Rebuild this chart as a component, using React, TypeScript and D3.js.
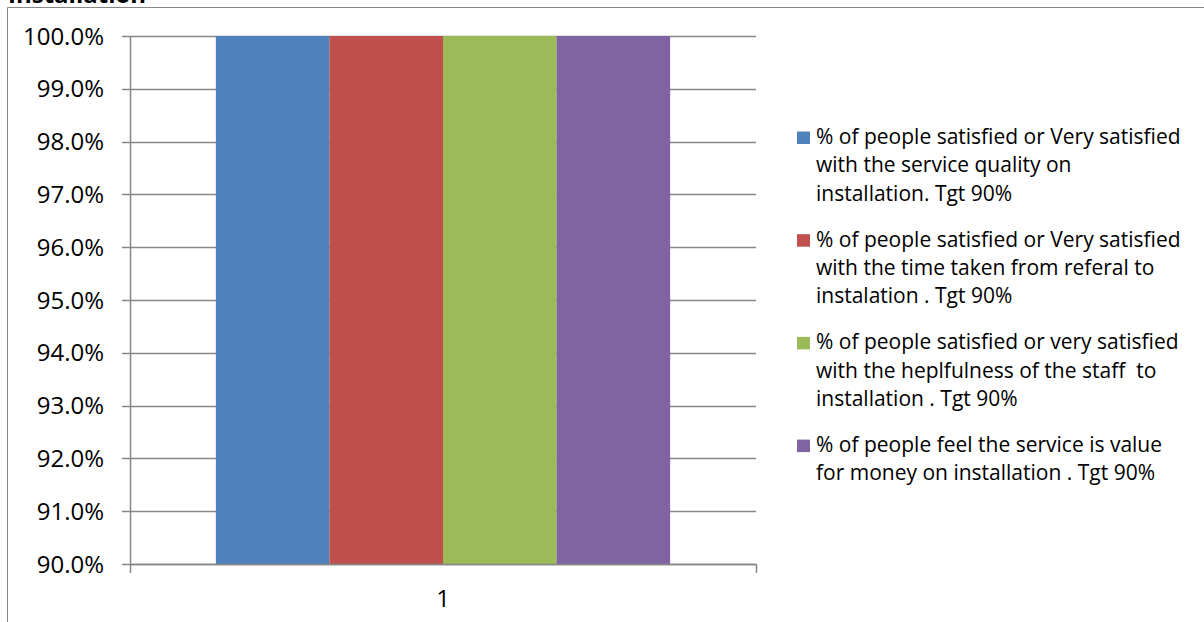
import React from "react";
import * as d3 from "d3";

const categories = ["1"];
const seriesNames = [
  ["% of people satisfied or Very satisfied", "with the service quality on", "installation. Tgt 90%"],
  ["% of people satisfied or Very satisfied", "with the time taken from referal to", "instalation . Tgt 90%"],
  ["% of people satisfied or very satisfied", "with the heplfulness of the staff  to", "installation . Tgt 90%"],
  ["% of people feel the service is value", "for money on installation . Tgt 90%"],
];
const seriesValues = [1.0, 1.0, 1.0, 1.0];
const seriesColors = ["#4F81BD", "#C0504D", "#9BBB59", "#8064A2"];
const yTicks = [0.9, 0.91, 0.92, 0.93, 0.94, 0.95, 0.96, 0.97, 0.98, 0.99, 1.0];

const W = 1204;
const H = 622;
const plot = { left: 130, right: 756, top: 36, bottom: 564 };
const axisColor = "#868686";
const font = "'Open Sans', sans-serif";

export default function App() {
  const y = d3.scaleLinear().domain([0.9, 1.0]).range([plot.bottom, plot.top]);
  const x0 = d3
    .scaleBand<string>()
    .domain(categories)
    .range([plot.left, plot.right])
    .paddingInner(0)
    .paddingOuter(0.189);
  const x1 = d3
    .scaleBand<number>()
    .domain(d3.range(seriesValues.length))
    .range([0, x0.bandwidth()]);
  const fmt = d3.format(".1%");

  return (
    <svg
      width={W}
      height={H}
      style={{ position: "absolute", left: 0, top: 0, background: "#fff" }}
    >
      <rect x={0} y={0} width={W} height={H} fill="#fff" />
      <text
        x={8}
        y={3}
        fontFamily={font}
        fontWeight="bold"
        fontSize={24}
        fill="#000"
      >
        Installation
      </text>
      <line x1={7.5} y1={7.5} x2={W} y2={7.5} stroke={axisColor} strokeWidth={1} />
      <line x1={7.5} y1={7.5} x2={7.5} y2={H} stroke={axisColor} strokeWidth={1} />

      {yTicks.map((t) => (
        <g key={t}>
          <line
            x1={plot.left - 8}
            x2={plot.right}
            y1={Math.round(y(t)) + 0.5}
            y2={Math.round(y(t)) + 0.5}
            stroke={axisColor}
            strokeWidth={1.5}
          />
          <text
            x={104}
            y={y(t) + 8.5}
            textAnchor="end"
            fontFamily={font}
            fontSize={24}
            fill="#000"
          >
            {fmt(t)}
          </text>
        </g>
      ))}

      {categories.map((c) => (
        <g key={c} transform={`translate(${x0(c)},0)`}>
          {seriesValues.map((v, i) => (
            <rect
              key={i}
              x={x1(i)}
              y={y(v)}
              width={x1.bandwidth()}
              height={y(0.9) - y(v)}
              fill={seriesColors[i]}
            />
          ))}
        </g>
      ))}

      <line x1={plot.left} x2={plot.right} y1={plot.bottom + 0.5} y2={plot.bottom + 0.5} stroke={axisColor} strokeWidth={1.5} />
      <line x1={plot.left + 0.5} x2={plot.left + 0.5} y1={plot.top} y2={plot.bottom + 9} stroke={axisColor} strokeWidth={1.5} />
      <line x1={plot.right + 0.5} x2={plot.right + 0.5} y1={plot.bottom} y2={plot.bottom + 9} stroke={axisColor} strokeWidth={1.5} />

      {categories.map((c) => (
        <text
          key={c}
          x={(x0(c) ?? 0) + x0.bandwidth() / 2}
          y={607}
          textAnchor="middle"
          fontFamily={font}
          fontSize={24}
          fill="#000"
        >
          {c}
        </text>
      ))}

      {seriesNames.map((lines, i) => {
        const base = 144 + i * 102.7;
        return (
          <g key={i}>
            <rect x={797} y={base - 12.5} width={13} height={12.5} fill={seriesColors[i]} />
            {lines.map((l, j) => (
              <text
                key={j}
                x={816}
                y={base + j * 28.3}
                fontFamily={font}
                fontSize={21}
                fill="#000"
                style={{ whiteSpace: "pre" }}
              >
                {l}
              </text>
            ))}
          </g>
        );
      })}
    </svg>
  );
}
